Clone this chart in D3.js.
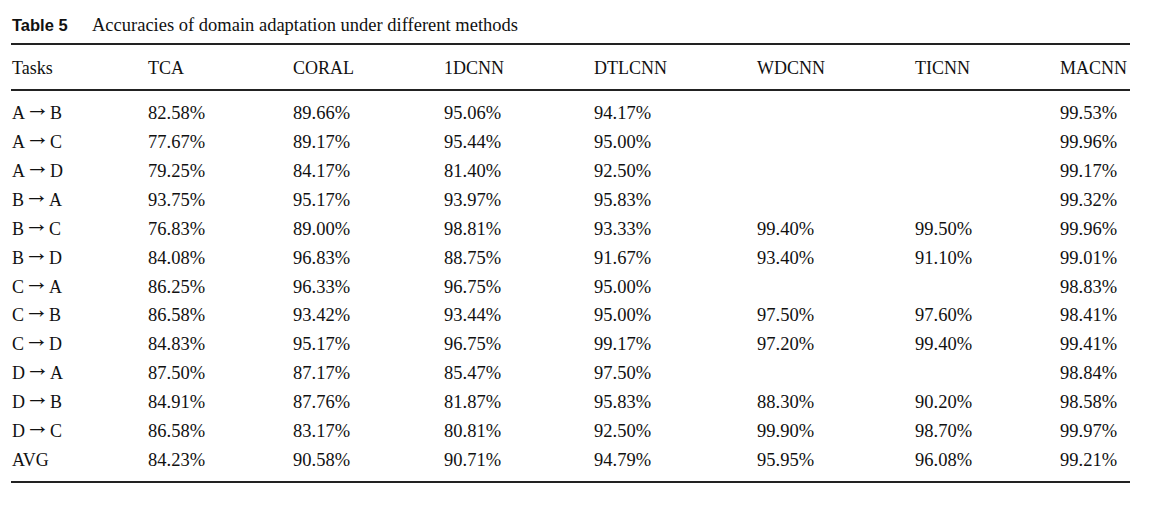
<!DOCTYPE html>
<html>
<head>
<meta charset="utf-8">
<script src="https://cdn.jsdelivr.net/npm/d3@7"></script>
<style>
  body { margin: 0; background: #fff; }
</style>
</head>
<body>
<div class="table-chart"></div>
<script>
"use strict";

const tasks = ["A→B", "A→C", "A→D", "B→A", "B→C", "B→D", "C→A", "C→B", "C→D", "D→A", "D→B", "D→C", "AVG"];
const methods = ["TCA", "CORAL", "1DCNN", "DTLCNN", "WDCNN", "TICNN", "MACNN"];

const tca = [82.58, 77.67, 79.25, 93.75, 76.83, 84.08, 86.25, 86.58, 84.83, 87.50, 84.91, 86.58, 84.23];
const coral = [89.66, 89.17, 84.17, 95.17, 89.00, 96.83, 96.33, 93.42, 95.17, 87.17, 87.76, 83.17, 90.58];
const dcnn1 = [95.06, 95.44, 81.40, 93.97, 98.81, 88.75, 96.75, 93.44, 96.75, 85.47, 81.87, 80.81, 90.71];
const dtlcnn = [94.17, 95.00, 92.50, 95.83, 93.33, 91.67, 95.00, 95.00, 99.17, 97.50, 95.83, 92.50, 94.79];
const wdcnn = [null, null, null, null, 99.40, 93.40, null, 97.50, 97.20, null, 88.30, 99.90, 95.95];
const ticnn = [null, null, null, null, 99.50, 91.10, null, 97.60, 99.40, null, 90.20, 98.70, 96.08];
const macnn = [99.53, 99.96, 99.17, 99.32, 99.96, 99.01, 98.83, 98.41, 99.41, 98.84, 98.58, 99.97, 99.21];

const seriesValues = [tca, coral, dcnn1, dtlcnn, wdcnn, ticnn, macnn];

const width = 1150;
const height = 509;

const svg = d3
  .select(".table-chart")
  .append("svg")
  .attr("width", width)
  .attr("height", height);

const serif = "'Liberation Serif', 'Times New Roman', serif";
const sans = "'Liberation Sans', Arial, sans-serif";

// column positions (left edges)
const x = d3
  .scaleOrdinal()
  .domain(["Tasks"].concat(methods))
  .range([12, 148, 293, 444, 594, 757, 915, 1060]);

// row bands
const y = d3
  .scaleBand()
  .domain(tasks)
  .range([98.5, 474.5]);

// title
svg
  .append("text")
  .attr("x", 12)
  .attr("y", 31)
  .attr("font-family", sans)
  .attr("font-weight", 700)
  .attr("font-size", "16.5px")
  .attr("fill", "#111")
  .text("Table 5");

svg
  .append("text")
  .attr("x", 92)
  .attr("y", 31)
  .attr("font-family", serif)
  .attr("font-size", "18.5px")
  .attr("fill", "#111")
  .text("Accuracies of domain adaptation under different methods");

// rules
[44, 90, 482].forEach((ry) => {
  svg
    .append("line")
    .attr("x1", 11)
    .attr("x2", 1130)
    .attr("y1", ry)
    .attr("y2", ry)
    .attr("stroke", "#222")
    .attr("stroke-width", 2.2);
});

// header
svg
  .append("g")
  .selectAll("text")
  .data(["Tasks"].concat(methods))
  .join("text")
  .attr("x", (d) => x(d))
  .attr("y", 74)
  .attr("font-family", serif)
  .attr("font-size", "18px")
  .attr("fill", "#111")
  .text((d) => d);

// body rows
const rows = svg
  .append("g")
  .selectAll("g")
  .data(tasks)
  .join("g")
  .attr("transform", (d) => `translate(0, ${y(d) + y.bandwidth() / 2 + 6})`);

// task labels, arrow enlarged so it looks like the long thin one in the original
const taskText = rows
  .append("text")
  .attr("x", x("Tasks"))
  .attr("font-family", serif)
  .attr("font-size", "18px")
  .attr("fill", "#111");

taskText.each(function (d) {
  const t = d3.select(this);
  const parts = d.split("→");
  if (parts.length === 2) {
    t.append("tspan").text(parts[0]);
    t.append("tspan")
      .attr("font-size", "25px")
      .attr("dy", -3)
      .text("→");
    t.append("tspan").attr("dy", 3).text(parts[1]);
  } else {
    t.text(d);
  }
});

rows
  .selectAll("text.val")
  .data((d, i) => methods.map((m, j) => ({ method: m, value: seriesValues[j][i] })).filter((c) => c.value != null))
  .join("text")
  .attr("class", "val")
  .attr("x", (c) => x(c.method))
  .attr("font-family", serif)
  .attr("font-size", "18.5px")
  .attr("fill", "#111")
  .text((c) => d3.format(".2f")(c.value) + "%");
</script>
</body>
</html>
